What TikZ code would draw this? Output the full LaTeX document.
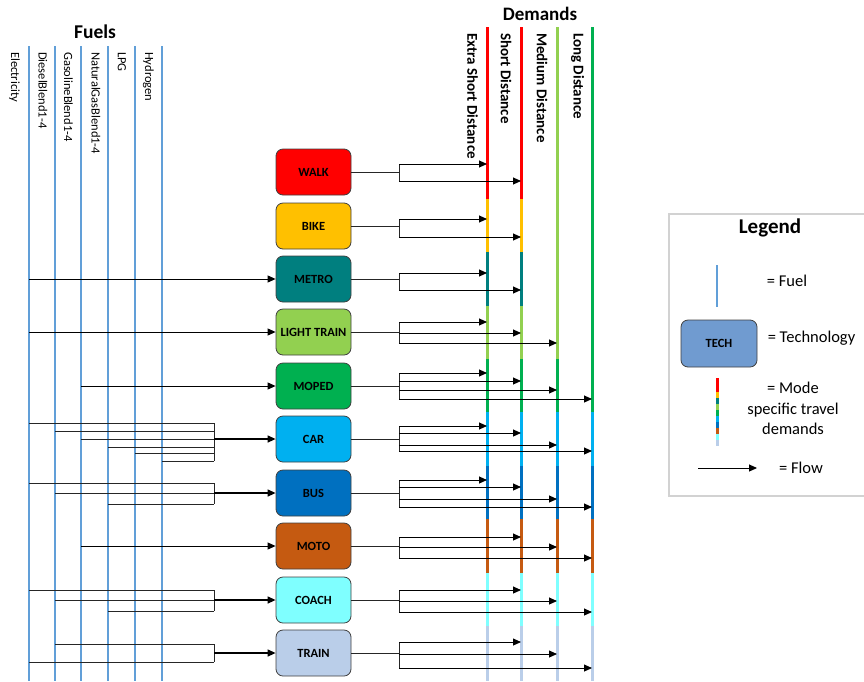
\documentclass[tikz,border=0pt]{standalone}
\usepackage{fontspec}
\setmainfont{Carlito}
\usetikzlibrary{arrows.meta}
\definecolor{fuelcolor}{HTML}{619FD8}
\definecolor{walkcolor}{HTML}{FF0000}
\definecolor{bikecolor}{HTML}{FFC000}
\definecolor{metrocolor}{HTML}{007F7F}
\definecolor{ltraincolor}{HTML}{92D050}
\definecolor{mopedcolor}{HTML}{00B050}
\definecolor{carcolor}{HTML}{00B0F0}
\definecolor{buscolor}{HTML}{0070C0}
\definecolor{motocolor}{HTML}{C55A11}
\definecolor{coachcolor}{HTML}{7FFFFF}
\definecolor{traincolor}{HTML}{BACEE9}
\definecolor{techcolor}{HTML}{709BD0}
\newcommand{\xes}{487}
\newcommand{\xsd}{521}
\newcommand{\xmd}{557}
\newcommand{\xld}{592}
\newcommand{\band}[3]{\foreach \d in {\xes,\xsd,\xmd,\xld} \draw[demand, #1] (\d,#2) -- (\d,#3);}
\newcommand{\branch}[3]{\draw[feed] (#1.east) -- (br |- #1) (br |- 0,#2) -- (br |- 0,#3);}
\newcommand{\flowto}[2]{\draw[flow] (br |- 0,#2) -- (#1 |- 0,#2);}
\newcommand{\feedin}[2]{\draw[feed] (#1 |- 0,#2) -- (mg |- 0,#2);}

\begin{document}
\begin{tikzpicture}[x=1pt, y=-1pt, >={Triangle[length=8pt,width=7pt]},
    tech/.style={draw=black!75, line width=0.8pt, rounded corners=7pt, minimum width=75pt, minimum height=46pt, inner sep=0pt, font=\fontsize{12.5}{14}\selectfont\bfseries},
    fuel/.style={fuelcolor, line width=2.6pt},
    demand/.style={line width=3pt},
    flow/.style={->, line width=0.9pt},
    feed/.style={black!85, line width=0.9pt},
    fuellbl/.style={rotate=-90, anchor=west, inner sep=0pt, font=\fontsize{12.5}{14}\selectfont},
    demandlbl/.style={rotate=-90, anchor=west, inner sep=0pt, font=\fontsize{15}{17}\selectfont\bfseries},
    keytext/.style={align=center, font=\fontsize{16.5}{20.5}\selectfont}]
    \useasboundingbox (0,0) rectangle (864,681);

    % fuels
    \coordinate (elec) at (29,0);
    \coordinate (diesel) at (55,0);
    \coordinate (gasoline) at (81,0);
    \coordinate (natgas) at (108,0);
    \coordinate (lpg) at (135,0);
    \coordinate (hydrogen) at (162,0);
    \draw[fuel] (elec |- 0,46) -- (elec |- 0,681) (diesel |- 0,46) -- (diesel |- 0,681) (gasoline |- 0,46) -- (gasoline |- 0,681);
    \draw[fuel] (natgas |- 0,46) -- (natgas |- 0,681) (lpg |- 0,46) -- (lpg |- 0,681) (hydrogen |- 0,46) -- (hydrogen |- 0,681);
    \node[font=\fontsize{19.5}{22}\selectfont\bfseries] (fuels) at (95,32) {Fuels};
    \node[fuellbl] (elec-lbl) at (14.5,52) {Electricity};
    \node[fuellbl] (diesel-lbl) at (43,52) {DieselBlend1-4};
    \node[fuellbl] (gasoline-lbl) at (68.5,52) {GasolineBlend1-4};
    \node[fuellbl] (natgas-lbl) at (96,52) {NaturalGasBlend1-4};
    \node[fuellbl] (lpg-lbl) at (122,52) {LPG};
    \node[fuellbl] (hydrogen-lbl) at (148.5,52) {Hydrogen};

    % demands
    \coordinate (es) at (\xes,0);
    \coordinate (sd) at (\xsd,0);
    \coordinate (md) at (\xmd,0);
    \coordinate (ld) at (\xld,0);
    \draw[demand, walkcolor] (\xes,27) -- (\xes,199) (\xsd,27) -- (\xsd,199);
    \draw[demand, bikecolor] (\xes,199) -- (\xes,252) (\xsd,199) -- (\xsd,252);
    \draw[demand, metrocolor] (\xes,252) -- (\xes,306) (\xsd,252) -- (\xsd,306);
    \draw[demand, ltraincolor] (\xes,306) -- (\xes,359) (\xsd,306) -- (\xsd,359) (\xmd,27) -- (\xmd,359);
    \draw[demand, mopedcolor] (\xes,359) -- (\xes,412) (\xsd,359) -- (\xsd,412) (\xmd,359) -- (\xmd,412) (\xld,27) -- (\xld,412);
    \band{carcolor}{412}{466}
    \band{buscolor}{466}{519}
    \band{motocolor}{519}{573}
    \band{coachcolor}{573}{626}
    \band{traincolor}{626}{681}
    \node[font=\fontsize{19}{22}\selectfont\bfseries] (demands) at (540,14) {Demands};
    \node[demandlbl] (es-lbl) at (472.5,33) {Extra Short Distance};
    \node[demandlbl] (sd-lbl) at (506,33) {Short Distance};
    \node[demandlbl] (md-lbl) at (542,33) {Medium Distance};
    \node[demandlbl] (ld-lbl) at (577.5,33) {Long Distance};

    % technologies
    \node[tech, fill=walkcolor] (walk) at (313.5,172) {WALK};
    \node[tech, fill=bikecolor] (bike) at (313.5,226) {BIKE};
    \node[tech, fill=metrocolor] (metro) at (313.5,279) {METRO};
    \node[tech, fill=ltraincolor] (ltrain) at (313.5,332) {LIGHT TRAIN};
    \node[tech, fill=mopedcolor] (moped) at (313.5,386) {MOPED};
    \node[tech, fill=carcolor] (car) at (313.5,439) {CAR};
    \node[tech, fill=buscolor] (bus) at (313.5,493) {BUS};
    \node[tech, fill=motocolor] (moto) at (313.5,546) {MOTO};
    \node[tech, fill=coachcolor] (coach) at (313.5,600) {COACH};
    \node[tech, fill=traincolor] (train) at (313.5,653) {TRAIN};

    % fuel inputs
    \coordinate (mg) at (214,0);
    \draw[flow] (elec |- metro) -- (metro.west);
    \draw[flow] (elec |- ltrain) -- (ltrain.west);
    \draw[flow] (gasoline |- moped) -- (moped.west);
    \draw[flow] (gasoline |- moto) -- (moto.west);
    \feedin{elec}{423} \feedin{diesel}{431} \feedin{gasoline}{439}
    \feedin{natgas}{447} \feedin{lpg}{453} \feedin{hydrogen}{461}
    \draw[feed] (mg |- 0,423) -- (mg |- 0,461);
    \draw[flow, line width=1.3pt] (mg |- car) -- (car.west);
    \feedin{elec}{483} \feedin{diesel}{493} \feedin{natgas}{504}
    \draw[feed] (mg |- 0,483) -- (mg |- 0,504);
    \draw[flow, line width=1.3pt] (mg |- bus) -- (bus.west);
    \feedin{elec}{590} \feedin{diesel}{600} \feedin{natgas}{611}
    \draw[feed] (mg |- 0,590) -- (mg |- 0,611);
    \draw[flow, line width=1.3pt] (mg |- coach) -- (coach.west);
    \feedin{diesel}{644} \feedin{elec}{662}
    \draw[feed] (mg |- 0,644) -- (mg |- 0,662);
    \draw[flow, line width=1.3pt] (mg |- train) -- (train.west);

    % demand outputs
    \coordinate (br) at (399,0);
    \branch{walk}{164}{181} \flowto{es}{164} \flowto{sd}{181}
    \branch{bike}{219}{237} \flowto{es}{219} \flowto{sd}{237}
    \branch{metro}{273}{290} \flowto{es}{273} \flowto{sd}{290}
    \branch{ltrain}{322}{343} \flowto{es}{322} \flowto{sd}{333} \flowto{md}{343}
    \branch{moped}{373}{399} \flowto{es}{373} \flowto{sd}{381} \flowto{md}{390} \flowto{ld}{399}
    \branch{car}{426}{451} \flowto{es}{426} \flowto{sd}{433} \flowto{md}{445} \flowto{ld}{451}
    \branch{bus}{480}{507} \flowto{es}{480} \flowto{sd}{487} \flowto{md}{499} \flowto{ld}{507}
    \branch{moto}{537}{558} \flowto{sd}{537} \flowto{md}{547} \flowto{ld}{558}
    \branch{coach}{590}{612} \flowto{sd}{590} \flowto{md}{601} \flowto{ld}{612}
    \branch{train}{642}{668} \flowto{sd}{642} \flowto{md}{654} \flowto{ld}{668}

    % legend
    \draw[gray!35, line width=1.2pt] (864,214) -- (669,214) -- (669,496) -- (864,496);
    \node[font=\fontsize{21}{24}\selectfont\bfseries] (legend) at (770,228) {Legend};
    \draw[fuel] (717,265) -- (717,307);
    \node[keytext] (fuel-key) at (787,281) {= Fuel};
    \node[tech, fill=techcolor, minimum width=76pt, minimum height=47pt] (tech-key) at (719,343.5) {TECH};
    \node[keytext] (tech-key-lbl) at (811.5,338) {= Technology};
    \draw[demand, walkcolor] (717,378) -- (717,392);
    \draw[demand, bikecolor] (717,392) -- (717,398);
    \draw[demand, metrocolor] (717,398) -- (717,404);
    \draw[demand, ltraincolor] (717,404) -- (717,410);
    \draw[demand, mopedcolor] (717,410) -- (717,416);
    \draw[demand, carcolor] (717,416) -- (717,422);
    \draw[demand, buscolor] (717,422) -- (717,428);
    \draw[demand, motocolor] (717,428) -- (717,434);
    \draw[demand, coachcolor] (717,434) -- (717,440);
    \draw[demand, traincolor] (717,440) -- (717,446);
    \node[keytext] (mode-key) at (793,408.5) {= Mode\\specific travel\\demands};
    \coordinate (flow-a) at (698,468);
    \coordinate (flow-b) at (757,468);
    \draw[flow] (flow-a) -- (flow-b);
    \node[keytext] (flow-key) at (801,468) {= Flow};
\end{tikzpicture}
\end{document}
